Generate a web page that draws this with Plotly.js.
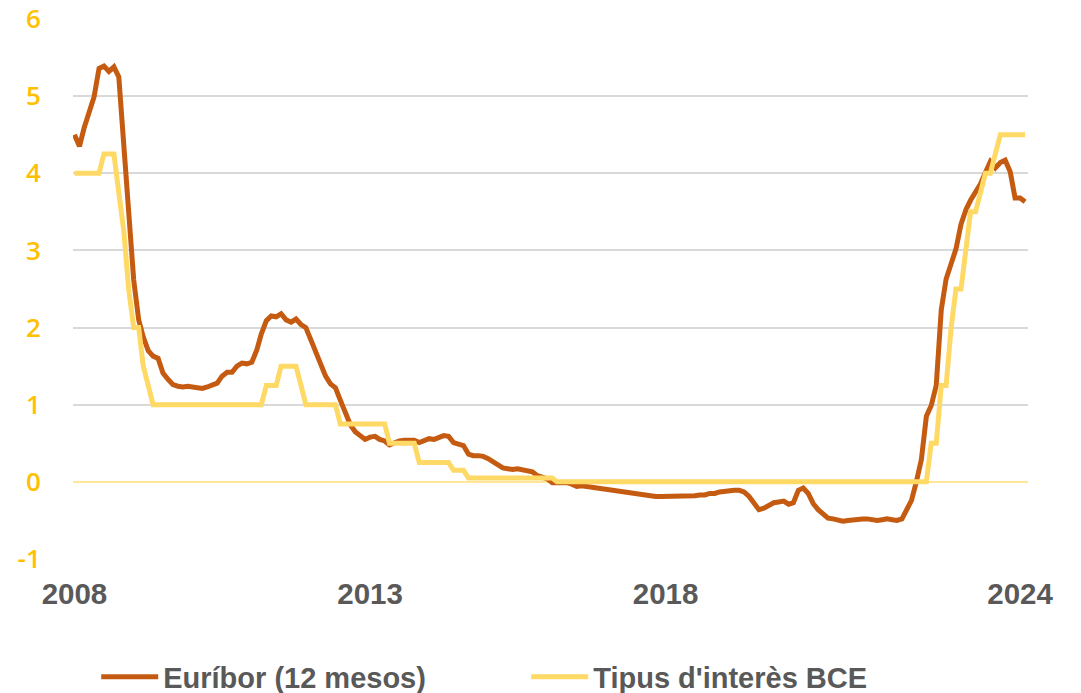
<!DOCTYPE html>
<html>
<head>
<meta charset="utf-8">
<script src="https://cdn.plot.ly/plotly-3.0.1.min.js"></script>
<style>
  html, body { margin: 0; padding: 0; background: #ffffff; }
  #chart { width: 1081px; height: 693px; }
</style>
</head>
<body>
<div id="chart"></div>
<script>
// Monthly series, January 2008 to February 2024
const firstYear = 2008;
const firstMonth = 1;

// Euríbor (12 mesos), monthly values (%)
const euribor = [
  4.50, 4.35, 4.59, 4.82, 4.99, 5.36, 5.39, 5.32, 5.38, 5.25, 4.35, 3.45,          // 2008
  2.62, 2.10, 1.88, 1.70, 1.63, 1.60, 1.41, 1.33, 1.26, 1.24, 1.23, 1.24,          // 2009
  1.23, 1.23, 1.21, 1.23, 1.25, 1.28, 1.37, 1.42, 1.42, 1.50, 1.54, 1.53,          // 2010
  1.55, 1.71, 1.92, 2.09, 2.15, 2.14, 2.18, 2.10, 2.07, 2.11, 2.04, 2.00,          // 2011
  1.84, 1.68, 1.50, 1.37, 1.27, 1.22, 1.06, 0.88, 0.74, 0.65, 0.59, 0.55,          // 2012
  0.58, 0.59, 0.55, 0.53, 0.48, 0.51, 0.53, 0.54, 0.54, 0.54, 0.51, 0.54,          // 2013
  0.56, 0.55, 0.58, 0.60, 0.59, 0.51, 0.49, 0.47, 0.36, 0.34, 0.34, 0.33,          // 2014
  0.30, 0.26, 0.21, 0.18, 0.17, 0.16, 0.17, 0.16, 0.15, 0.13, 0.08, 0.06,          // 2015
  0.04, -0.01, -0.01, -0.01, -0.01, -0.03, -0.06, -0.05, -0.06, -0.07, -0.07, -0.08, // 2016
  -0.10, -0.11, -0.11, -0.12, -0.13, -0.15, -0.15, -0.16, -0.17, -0.18, -0.19, -0.19, // 2017
  -0.19, -0.19, -0.19, -0.19, -0.19, -0.18, -0.18, -0.17, -0.17, -0.15, -0.15, -0.13, // 2018
  -0.12, -0.11, -0.11, -0.11, -0.13, -0.19, -0.28, -0.36, -0.34, -0.30, -0.27, -0.26, // 2019
  -0.25, -0.29, -0.27, -0.11, -0.08, -0.15, -0.28, -0.36, -0.42, -0.47, -0.48, -0.50, // 2020
  -0.51, -0.50, -0.49, -0.48, -0.48, -0.48, -0.49, -0.50, -0.49, -0.48, -0.49, -0.50, // 2021
  -0.48, -0.34, -0.24, 0.01, 0.29, 0.85, 0.99, 1.25, 2.23, 2.63, 2.83, 3.02,       // 2022
  3.34, 3.53, 3.65, 3.76, 3.86, 4.01, 4.15, 4.07, 4.14, 4.17, 4.02, 3.68,          // 2023
  3.68, 3.63                                                                         // 2024
];

// Tipus d'interès BCE, monthly values (%)
const ecbRate = [
  4.00, 4.00, 4.00, 4.00, 4.00, 4.00, 4.25, 4.25, 4.25, 3.75, 3.25, 2.50,          // 2008
  2.00, 2.00, 1.50, 1.25, 1.00, 1.00, 1.00, 1.00, 1.00, 1.00, 1.00, 1.00,          // 2009
  1.00, 1.00, 1.00, 1.00, 1.00, 1.00, 1.00, 1.00, 1.00, 1.00, 1.00, 1.00,          // 2010
  1.00, 1.00, 1.00, 1.25, 1.25, 1.25, 1.50, 1.50, 1.50, 1.50, 1.25, 1.00,          // 2011
  1.00, 1.00, 1.00, 1.00, 1.00, 1.00, 0.75, 0.75, 0.75, 0.75, 0.75, 0.75,          // 2012
  0.75, 0.75, 0.75, 0.75, 0.50, 0.50, 0.50, 0.50, 0.50, 0.50, 0.25, 0.25,          // 2013
  0.25, 0.25, 0.25, 0.25, 0.25, 0.15, 0.15, 0.15, 0.05, 0.05, 0.05, 0.05,          // 2014
  0.05, 0.05, 0.05, 0.05, 0.05, 0.05, 0.05, 0.05, 0.05, 0.05, 0.05, 0.05,          // 2015
  0.05, 0.05, 0.00, 0.00, 0.00, 0.00, 0.00, 0.00, 0.00, 0.00, 0.00, 0.00,          // 2016
  0.00, 0.00, 0.00, 0.00, 0.00, 0.00, 0.00, 0.00, 0.00, 0.00, 0.00, 0.00,          // 2017
  0.00, 0.00, 0.00, 0.00, 0.00, 0.00, 0.00, 0.00, 0.00, 0.00, 0.00, 0.00,          // 2018
  0.00, 0.00, 0.00, 0.00, 0.00, 0.00, 0.00, 0.00, 0.00, 0.00, 0.00, 0.00,          // 2019
  0.00, 0.00, 0.00, 0.00, 0.00, 0.00, 0.00, 0.00, 0.00, 0.00, 0.00, 0.00,          // 2020
  0.00, 0.00, 0.00, 0.00, 0.00, 0.00, 0.00, 0.00, 0.00, 0.00, 0.00, 0.00,          // 2021
  0.00, 0.00, 0.00, 0.00, 0.00, 0.00, 0.50, 0.50, 1.25, 1.25, 2.00, 2.50,          // 2022
  2.50, 3.00, 3.50, 3.50, 3.75, 4.00, 4.00, 4.25, 4.50, 4.50, 4.50, 4.50,          // 2023
  4.50, 4.50                                                                         // 2024
];

const seriesNames = ["Euríbor (12 mesos)", "Tipus d'interès BCE"];
const tickVals = ["2008-01-01", "2013-01-01", "2018-01-01", "2024-01-01"];
const tickLabels = ["2008", "2013", "2018", "2024"];
const yTickVals = [-1, 0, 1, 2, 3, 4, 5, 6];
const yTickLabels = ["-1", "0", "1", "2", "3", "4", "5", "6"];

// month axis categories (dates) built from the start month
function monthDates(n) {
  const out = [];
  for (let i = 0; i < n; i++) {
    const y = firstYear + Math.floor((firstMonth - 1 + i) / 12);
    const m = ((firstMonth - 1 + i) % 12) + 1;
    out.push(y + "-" + String(m).padStart(2, "0") + "-01");
  }
  return out;
}
const dates = monthDates(euribor.length);

const traces = [
  {
    x: dates, y: euribor, name: seriesNames[0], type: "scatter", mode: "lines",
    line: { color: "#C55A11", width: 5, shape: "linear" }
  },
  {
    x: dates, y: ecbRate, name: seriesNames[1], type: "scatter", mode: "lines",
    line: { color: "#FFD966", width: 5, shape: "linear" }
  }
];

const layout = {
  width: 1081, height: 693,
  paper_bgcolor: "#ffffff", plot_bgcolor: "#ffffff",
  margin: { l: 73, r: 53, t: 19, b: 134, pad: 0 },
  showlegend: true,
  legend: {
    orientation: "h",
    xref: "container", yref: "container",
    x: 0.089, xanchor: "left",
    y: 0.0231, yanchor: "middle",
    font: { family: "Liberation Sans, Arial, sans-serif", size: 29, color: "#595959", weight: "bold" },
    itemwidth: 57,
    entrywidth: 358,
    bgcolor: "rgba(0,0,0,0)",
    traceorder: "normal"
  },
  xaxis: {
    type: "date",
    range: ["2007-12-23", "2024-02-19"],
    tickmode: "array",
    tickvals: tickVals,
    ticktext: tickLabels,
    showgrid: false,
    zeroline: false,
    showline: false,
    automargin: false,
    ticks: "outside", ticklen: 9, tickcolor: "rgba(0,0,0,0)",
    tickfont: { family: "Liberation Sans, Arial, sans-serif", size: 29.5, color: "#595959", weight: "bold" },
    fixedrange: true
  },
  yaxis: {
    range: [-1, 6],
    tickmode: "array",
    tickvals: yTickVals,
    ticktext: yTickLabels,
    showgrid: true, gridcolor: "#D9D9D9", gridwidth: 2,
    zeroline: true, zerolinecolor: "#FFE699", zerolinewidth: 2,
    showline: false,
    automargin: false,
    ticks: "outside", ticklen: 26, tickcolor: "rgba(0,0,0,0)",
    tickfont: { family: "Open Sans, Noto Sans, sans-serif", size: 26, color: "#FFC000", weight: 600 },
    fixedrange: true
  }
};

Plotly.newPlot("chart", traces, layout, { displayModeBar: false, staticPlot: true });
</script>
</body>
</html>
